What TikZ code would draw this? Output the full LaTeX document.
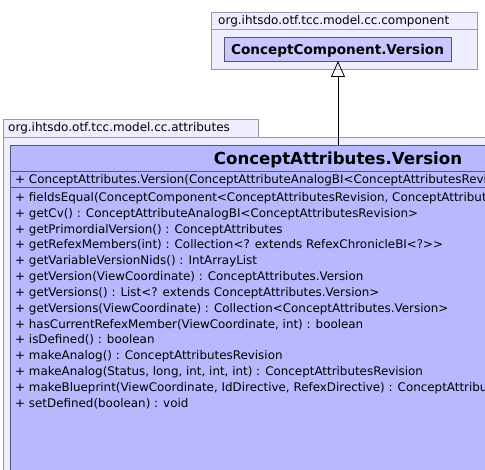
\documentclass[tikz,border=0pt]{standalone}
\usepackage{fontspec}
\setmainfont{DejaVu Sans}[Ligatures=ResetAll]
\usetikzlibrary{arrows.meta}
\definecolor{pkgfill}{HTML}{EEEEFF}
\definecolor{pkgline}{HTML}{9999AA}
\definecolor{clsfill}{HTML}{B8B8FF}
\definecolor{smallfill}{HTML}{C8C8FF}
\definecolor{clsline}{HTML}{555577}
\tikzset{
  pkg/.style={draw=pkgline, fill=pkgfill, line width=0.8pt},
  cls/.style={draw=clsline, fill=clsfill, line width=0.8pt},
  op/.style={anchor=base west, inner sep=0pt, font=\fontsize{11.9}{14}\selectfont},
  pkglabel/.style={anchor=base west, inner sep=0pt, font=\fontsize{12}{14}\selectfont},
}
\begin{document}
\begin{tikzpicture}[x=1pt,y=-1pt]
\useasboundingbox (0,0) rectangle (485,470);
\clip (0,0) rectangle (485,470);
% top package
\draw[pkg] (211,12) rectangle (477,69);
\draw[pkgline, line width=0.8pt] (211,29) -- (477,29);
\node[pkglabel] (pkg1) at (218,24.5) {org.ihtsdo.otf.tcc.model.cc.component};
\draw[draw=clsline, fill=smallfill, line width=0.8pt] (224,37) rectangle (451,61);
\node[anchor=base, inner sep=0pt, font=\fontsize{13.6}{15}\selectfont\bfseries] (cc) at (337.5,54.5) {ConceptComponent.Version};
\coordinate (ccb) at (338,61);
% lower package
\draw[pkg] (3,119) rectangle (258,137);
\draw[pkg] (3,137) rectangle (600,600);
\node[pkglabel] (pkg2) at (8,131.5) {org.ihtsdo.otf.tcc.model.cc.attributes};
% class
\draw[cls] (10,145) rectangle (666,600);
\draw[clsline, line width=0.8pt] (10,171) -- (666,171);
\draw[clsline, line width=0.8pt] (10,187) -- (666,187);
\node[anchor=base, inner sep=0pt, font=\fontsize{16.6}{18}\selectfont\bfseries] (ca) at (338,165) {ConceptAttributes.Version};
\coordinate (cat) at (338,145);
\draw[-{Triangle[open, width=14pt, length=16pt]}, line width=0.8pt] (cat) -- (ccb);
\node[op] (c0) at (15,183.5) {+ ConceptAttributes.Version(ConceptAttributeAnalogBI<ConceptAttributesRevision>)};
\foreach \t [count=\i from 0] in {
  {+ fieldsEqual(ConceptComponent<ConceptAttributesRevision, ConceptAttributes>)},
  {+ getCv() : ConceptAttributeAnalogBI<ConceptAttributesRevision>},
  {+ getPrimordialVersion() : ConceptAttributes},
  {+ getRefexMembers(int) : Collection<? extends RefexChronicleBI<?>{}>},
  {+ getVariableVersionNids() : IntArrayList},
  {+ getVersion(ViewCoordinate) : ConceptAttributes.Version},
  {+ getVersions() : List<? extends ConceptAttributes.Version>},
  {+ getVersions(ViewCoordinate) : Collection<ConceptAttributes.Version>},
  {+ hasCurrentRefexMember(ViewCoordinate, int) : boolean},
  {+ isDefined() : boolean},
  {+ makeAnalog() : ConceptAttributesRevision},
  {+ makeAnalog(Status, long, int, int, int) : ConceptAttributesRevision},
  {+ makeBlueprint(ViewCoordinate, IdDirective, RefexDirective) : ConceptAttributes},
  {+ setDefined(boolean) : void}}
  \node[op] (m\i) at (15,{201.5+15.83*\i}) {\t};
\end{tikzpicture}
\end{document}
